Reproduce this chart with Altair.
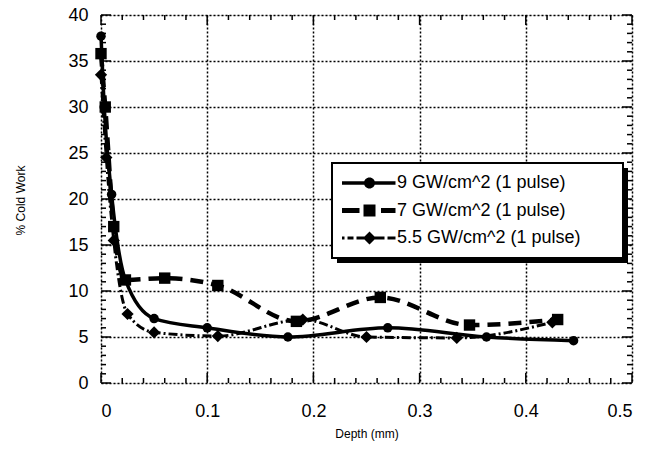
import altair as alt
import pandas as pd

# ---------------- data ----------------
SERIES = ["9 GW/cm^2 (1 pulse)", "7 GW/cm^2 (1 pulse)", "5.5 GW/cm^2 (1 pulse)"]

S9_X = [0, 0.003, 0.01, 0.023, 0.05, 0.1, 0.176, 0.27, 0.363, 0.445]
S9_Y = [37.7, 30.0, 20.5, 11.2, 7.0, 6.0, 5.0, 6.0, 5.0, 4.6]

S7_X = [0, 0.004, 0.012, 0.023, 0.06, 0.11, 0.184, 0.263, 0.347, 0.43]
S7_Y = [35.8, 30.0, 17.0, 11.2, 11.4, 10.6, 6.7, 9.3, 6.3, 6.9]

S55_X = [0, 0.005, 0.012, 0.025, 0.05, 0.11, 0.19, 0.25, 0.335, 0.425]
S55_Y = [33.5, 24.5, 15.5, 7.5, 5.5, 5.1, 6.9, 5.0, 4.9, 6.6]

X_MAJOR = [0, 0.1, 0.2, 0.3, 0.4, 0.5]
X_MINOR = [0.02, 0.04, 0.06, 0.08, 0.12, 0.14, 0.16, 0.18, 0.22, 0.24, 0.26, 0.28,
           0.32, 0.34, 0.36, 0.38, 0.42, 0.44, 0.46, 0.48]
Y_MAJOR = [0, 5, 10, 15, 20, 25, 30, 35, 40]
Y_MINOR = [1, 2, 3, 4, 6, 7, 8, 9, 11, 12, 13, 14, 16, 17, 18, 19, 21, 22, 23, 24,
           26, 27, 28, 29, 31, 32, 33, 34, 36, 37, 38, 39]

# ---------------- build tables ----------------
rows = []
for name, xs, ys in zip(SERIES, [S9_X, S7_X, S55_X], [S9_Y, S7_Y, S55_Y]):
    for x, y in zip(xs, ys):
        rows.append({"series": name, "depth": x, "cw": y})
df = pd.DataFrame(rows)

W, H = 531, 368
FONT = "Liberation Sans"

x_scale = alt.Scale(domain=[0, 0.5], nice=False, zero=False)
y_scale = alt.Scale(domain=[0, 40], nice=False, zero=False)

X_AXIS = alt.Axis(values=X_MAJOR, format=".1~f", title="Depth (mm)", ticks=False,
                  domain=False, grid=True, gridDash=[2, 2], gridColor="black",
                  gridWidth=1.5, gridOpacity=1, labelFontSize=18, labelFont=FONT,
                  labelColor="black", labelPadding=19, titleFont=FONT,
                  titleFontSize=12, titleFontWeight="normal", titleColor="black",
                  titlePadding=8)
Y_AXIS = alt.Axis(values=Y_MAJOR, title="% Cold Work", ticks=False, domain=False,
                  grid=True, gridDash=[2, 2], gridColor="black", gridWidth=1.5,
                  gridOpacity=1, labelFontSize=18, labelFont=FONT,
                  labelColor="black", labelPadding=13, titleFont=FONT,
                  titleFontSize=12, titleFontWeight="normal", titleColor="black",
                  titleX=-81, titleY=185, titleAlign="center",
                  titleBaseline="middle", titleAngle=270)


def xe(field, axis=None):
    if axis is None:
        return alt.X(field, scale=x_scale)
    return alt.X(field, scale=x_scale, axis=axis, title="Depth (mm)")


def ye(field, axis=None):
    if axis is None:
        return alt.Y(field, scale=y_scale)
    return alt.Y(field, scale=y_scale, axis=axis, title="% Cold Work")


base = alt.Chart(df)
series_style = [
    (dict(strokeWidth=3.5), dict(shape="circle", size=90)),
    (dict(strokeWidth=4.5, strokeDash=[13, 8]), dict(shape="square", size=130)),
    (dict(strokeWidth=3, strokeDash=[9, 3, 2, 3]), dict(shape="diamond", size=150)),
]

# axis carrier layer (grid, labels, titles; no visible marks)
axis_layer = base.mark_point(opacity=0).encode(
    x=xe("depth:Q", X_AXIS), y=ye("cw:Q", Y_AXIS))
layers = [axis_layer]

for i, name in enumerate(SERIES):
    lk, pk = series_style[i]
    sub = base.transform_filter(alt.datum.series == name)
    layers.append(sub.mark_line(color="black", interpolate="monotone", **lk)
                  .encode(x=xe("depth:Q"), y=ye("cw:Q")))
for i, name in enumerate(SERIES):
    lk, pk = series_style[i]
    sub = base.transform_filter(alt.datum.series == name)
    layers.append(sub.mark_point(color="black", filled=True, opacity=1, **pk)
                  .encode(x=xe("depth:Q"), y=ye("cw:Q")))


# ---------------- inward ticks on all four sides ----------------
def yticks(vals, length):
    d = alt.Data(values=[{"cw": v} for v in vals])
    left = alt.Chart(d).mark_rule(color="black", strokeWidth=1.5).encode(
        y=ye("cw:Q"), x=alt.value(0), x2=alt.value(length))
    right = alt.Chart(d).mark_rule(color="black", strokeWidth=1.5).encode(
        y=ye("cw:Q"), x=alt.value(W), x2=alt.value(W - length))
    return [left, right]


def xticks(vals, length):
    d = alt.Data(values=[{"depth": v} for v in vals])
    bottom = alt.Chart(d).mark_rule(color="black", strokeWidth=1.5).encode(
        x=xe("depth:Q"), y=alt.value(H), y2=alt.value(H - length))
    top = alt.Chart(d).mark_rule(color="black", strokeWidth=1.5).encode(
        x=xe("depth:Q"), y=alt.value(0), y2=alt.value(length))
    return [bottom, top]


layers += yticks(Y_MAJOR, 10) + yticks(Y_MINOR, 5) + xticks(X_MAJOR, 10) + xticks(X_MINOR, 5)

# ---------------- legend box with drop shadow ----------------
one = alt.Data(values=[{"k": 1}])
shadow = alt.Chart(one).mark_rect(color="black").encode(
    x=alt.value(236), x2=alt.value(527), y=alt.value(153), y2=alt.value(248))
box = alt.Chart(one).mark_rect(fill="white", stroke="black", strokeWidth=2).encode(
    x=alt.value(231), x2=alt.value(522), y=alt.value(148), y2=alt.value(243))
layers += [shadow, box]


# ---------------- legend symbols (line + marker) ----------------
def bar(x0, x1, h):
    return f"M{x0},{-h} L{x1},{-h} L{x1},{h} L{x0},{h} Z"


CIRCLE = "M0.55,0 A0.55,0.55 0 1,1 -0.55,0 A0.55,0.55 0 1,1 0.55,0 Z"
SQUARE = "M-0.6,-0.6 L0.6,-0.6 L0.6,0.6 L-0.6,0.6 Z"
DIAMOND = "M0,-0.65 L0.65,0 L0,0.65 L-0.65,0 Z"
PATHS = [
    bar(-2.75, 2.6, 0.17) + " " + CIRCLE,
    bar(-2.75, -1.0, 0.25) + " " + SQUARE + " " + bar(1.15, 2.6, 0.25),
    bar(-2.75, -2.5, 0.14) + " " + bar(-2.2, -1.6, 0.14) + " " + bar(-1.3, -0.4, 0.14)
    + " " + DIAMOND + " " + bar(0.4, 1.5, 0.14) + " " + bar(1.8, 2.6, 0.14),
]

legend_layer = base.transform_filter("false").mark_point(
    filled=True, color="black", opacity=1, size=400
).encode(
    x=xe("depth:Q"),
    y=ye("cw:Q"),
    shape=alt.Shape(
        "series:N",
        scale=alt.Scale(domain=SERIES, range=PATHS),
        legend=alt.Legend(orient="none", legendX=258.5, legendY=158, title=None,
                          padding=0, symbolSize=400, labelOffset=17.5,
                          rowPadding=8.5, labelFontSize=18, labelFont=FONT,
                          labelColor="black", labelLimit=400,
                          symbolFillColor="black", symbolStrokeColor="black",
                          symbolStrokeWidth=0, symbolOpacity=1),
    ),
)
layers.append(legend_layer)

chart = alt.layer(*layers).properties(
    width=W, height=H,
    autosize=alt.AutoSizeParams(type="none"),
    padding={"left": 101, "top": 15, "right": 27, "bottom": 68},
).configure_view(stroke="black", strokeWidth=2.5).configure(background="white")

chart.save("out.html", embed_options={"renderer": "svg", "actions": False})
